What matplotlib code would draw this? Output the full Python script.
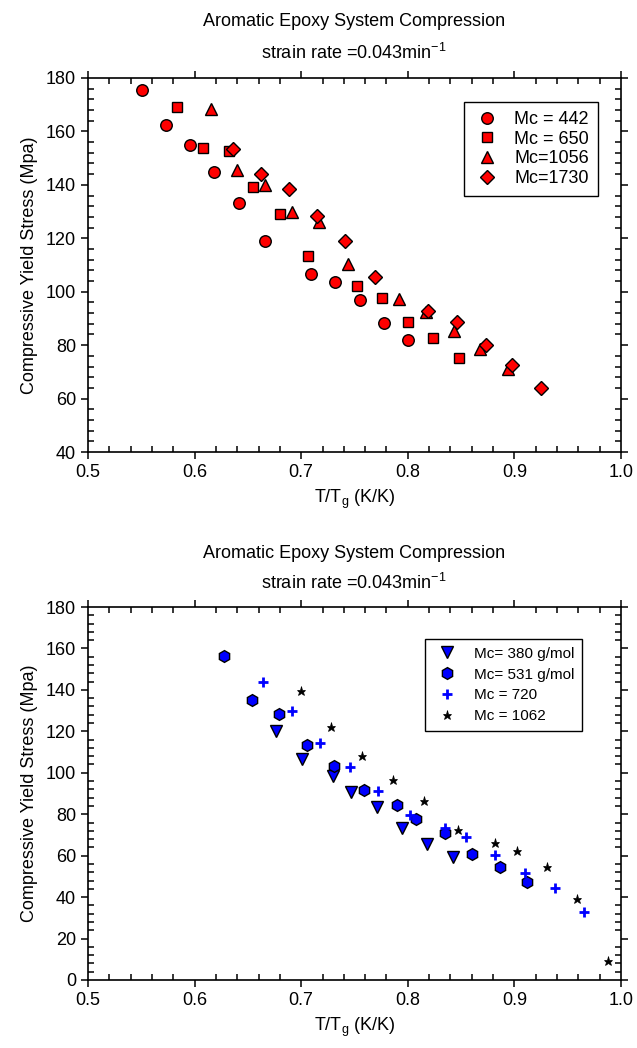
from matplotlib import pyplot as plt
from matplotlib.ticker import MultipleLocator
import numpy as np

plt.rcParams['font.family'] = ['Liberation Sans', 'DejaVu Sans']
plt.rcParams['mathtext.fontset'] = 'custom'
plt.rcParams['mathtext.rm'] = 'Liberation Sans'
plt.rcParams['mathtext.it'] = 'Liberation Sans'

# top panel data (T/Tg, yield stress)
x442 = [0.551, 0.573, 0.596, 0.618, 0.642, 0.666, 0.709, 0.732, 0.755, 0.778, 0.800]
y442 = [175.4, 162.4, 154.9, 144.8, 133.2, 119.0, 106.5, 103.8, 96.9, 88.4, 81.8]
x650 = [0.584, 0.608, 0.632, 0.655, 0.680, 0.706, 0.752, 0.776, 0.800, 0.824, 0.848]
y650 = [169.1, 153.8, 152.7, 139.1, 129.1, 113.3, 102.3, 97.8, 88.8, 82.6, 75.0]
x1056 = [0.615, 0.640, 0.666, 0.691, 0.717, 0.744, 0.792, 0.817, 0.843, 0.868, 0.894]
y1056 = [168.5, 145.4, 140.1, 130.0, 126.0, 110.3, 97.3, 92.3, 85.3, 78.4, 71.0]
x1730 = [0.636, 0.662, 0.689, 0.715, 0.741, 0.769, 0.819, 0.846, 0.873, 0.898, 0.925]
y1730 = [153.3, 143.9, 138.6, 128.5, 118.9, 105.5, 92.8, 88.7, 80.1, 72.7, 64.0]

# bottom panel data
x380 = [0.676, 0.701, 0.730, 0.747, 0.771, 0.795, 0.818, 0.842]
y380 = [120.0, 106.5, 98.5, 90.6, 83.5, 73.5, 65.5, 59.3]
x531 = [0.628, 0.654, 0.679, 0.705, 0.731, 0.759, 0.790, 0.808, 0.835, 0.860, 0.886, 0.912]
y531 = [156.5, 135.0, 128.2, 113.3, 103.1, 91.5, 84.5, 77.6, 70.9, 60.9, 54.6, 47.5]
x720 = [0.664, 0.691, 0.718, 0.746, 0.772, 0.802, 0.835, 0.855, 0.882, 0.910, 0.938, 0.965]
y720 = [144.0, 129.8, 114.6, 102.6, 91.0, 79.4, 73.5, 68.8, 60.1, 51.5, 44.6, 33.0]
x1062 = [0.700, 0.728, 0.757, 0.786, 0.815, 0.847, 0.882, 0.902, 0.931, 0.959, 0.988]
y1062 = [139.7, 122.2, 108.0, 96.5, 86.2, 72.5, 66.3, 62.3, 54.3, 39.1, 9.3]

title1 = "Aromatic Epoxy System Compression"
title2 = "strain rate =0.043min$^{\\mathregular{-1}}$"
xlab = "T/T$_{\\mathregular{g}}$ (K/K)"
ylab = "Compressive Yield Stress (Mpa)"

fig = plt.figure(figsize=(6.37, 10.48), dpi=100)
ax1 = fig.add_axes([0.138, 0.5687, 0.837, 0.3569])
ax2 = fig.add_axes([0.138, 0.0649, 0.837, 0.3559])


def style(ax, ymin, ymax):
    ax.set_xlim(0.5, 1.0)
    ax.set_ylim(ymin, ymax)
    ax.xaxis.set_major_locator(MultipleLocator(0.1))
    ax.xaxis.set_minor_locator(MultipleLocator(0.02))
    ax.yaxis.set_major_locator(MultipleLocator(20))
    ax.yaxis.set_minor_locator(MultipleLocator(4))
    ax.xaxis.set_major_formatter(plt.FormatStrFormatter('%.1f'))
    ax.tick_params(which='major', direction='out', length=5, width=1.1,
                   top=True, right=True, labelsize=13)
    ax.tick_params(which='minor', direction='in', length=4, width=1.1,
                   top=True, right=True)
    for s in ax.spines.values():
        s.set_linewidth(1.2)
    ax.set_xlabel(xlab, fontsize=13, labelpad=5)
    ax.set_ylabel(ylab, fontsize=13, labelpad=6)


edge = dict(linestyle='none', markeredgecolor='black', markeredgewidth=1.0)
ax1.plot(x442, y442, 'o', color='red', markersize=8.3, label='Mc = 442', **edge)
ax1.plot(x650, y650, 's', color='red', markersize=7.2, label='Mc = 650', **edge)
ax1.plot(x1056, y1056, '^', color='red', markersize=8.3, label='Mc=1056', **edge)
ax1.plot(x1730, y1730, 'D', color='red', markersize=6.8, label='Mc=1730', **edge)
style(ax1, 40, 180)
leg1 = ax1.legend(loc='upper right', bbox_to_anchor=(0.957, 0.936), fontsize=13,
                  fancybox=False, edgecolor='black', framealpha=1,
                  handlelength=1.6, handletextpad=0.7, labelspacing=0.15,
                  borderpad=0.5, borderaxespad=0)
leg1.get_frame().set_linewidth(1.0)

ax2.plot(x380, y380, 'v', color='blue', markersize=8.3, label='Mc= 380 g/mol', **edge)
ax2.plot(x531, y531, 'h', color='blue', markersize=8.5, label='Mc= 531 g/mol', **edge)
ax2.plot(x720, y720, '+', color='blue', markersize=7.5, markeredgewidth=2.0,
         linestyle='none', label='Mc = 720')
ax2.plot(x1062, y1062, '*', color='black', markersize=6.5, markeredgewidth=0.5,
         linestyle='none', label='Mc = 1062')
style(ax2, 0, 180)
leg2 = ax2.legend(loc='upper right', bbox_to_anchor=(0.927, 0.914), fontsize=11,
                  fancybox=False, edgecolor='black', framealpha=1,
                  handlelength=1.8, handletextpad=0.9, labelspacing=0.45,
                  borderpad=0.5, borderaxespad=0)
leg2.get_frame().set_linewidth(1.0)

fig.text(0.5556, 1 - 22 / 1048, title1, ha='center', va='center', fontsize=13)
fig.text(0.5556, 1 - 53 / 1048, title2, ha='center', va='center', fontsize=13)
fig.text(0.5556, 1 - 553 / 1048, title1, ha='center', va='center', fontsize=13)
fig.text(0.5556, 1 - 583 / 1048, title2, ha='center', va='center', fontsize=13)

fig.savefig('out.png', dpi=100)
plt.close(fig)
